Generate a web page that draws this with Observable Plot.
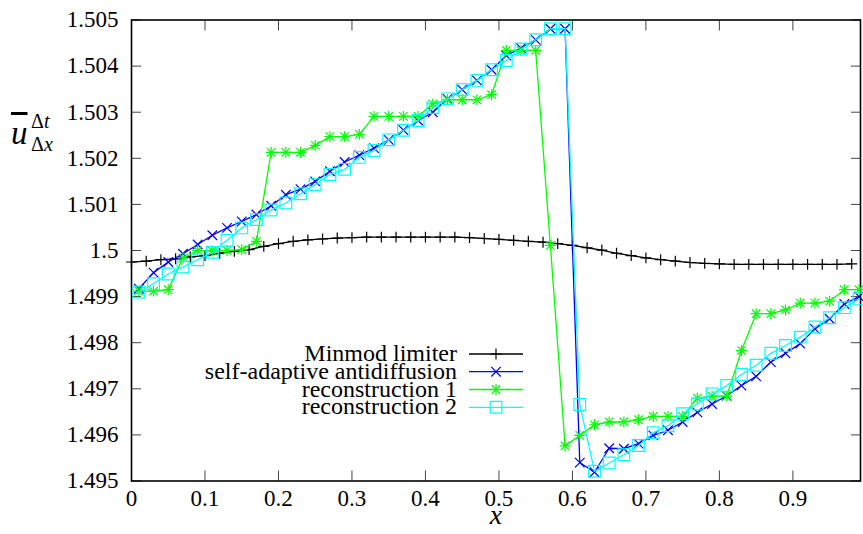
<!DOCTYPE html>
<html><head><meta charset="utf-8">
<script src="https://cdn.jsdelivr.net/npm/d3@7"></script>
<script src="https://cdn.jsdelivr.net/npm/@observablehq/plot@0.6"></script>
<style>
body{margin:0;background:#fff}
svg{display:block}
#wrap{position:relative;width:863px;height:534px}
#ylab span{position:absolute;font-family:'Liberation Serif';line-height:1;color:#000;white-space:nowrap;z-index:2}
</style>
</head><body>
<div id="wrap">
  <div id="ylab">
    <span style="left:11px;top:117px;font-size:33px;font-style:italic;text-decoration:overline">u</span>
    <span style="left:31px;top:111px;font-size:20px">Δ<i>t</i></span>
    <span style="left:31px;top:134px;font-size:20px">Δ<i>x</i></span>
  </div>
  <div id="chart"></div>
</div>
<script>
// grid positions
const xEven = [0.00,0.02,0.04,0.06,0.08,0.10,0.12,0.14,0.16,0.18,0.20,0.22,0.24,0.26,0.28,0.30,0.32,0.34,0.36,0.38,0.40,0.42,0.44,0.46,0.48,0.50,0.52,0.54,0.56,0.58,0.60,0.62,0.64,0.66,0.68,0.70,0.72,0.74,0.76,0.78,0.80,0.82,0.84,0.86,0.88,0.90,0.92,0.94,0.96,0.98];
const xOdd = [0.01,0.03,0.05,0.07,0.09,0.11,0.13,0.15,0.17,0.19,0.21,0.23,0.25,0.27,0.29,0.31,0.33,0.35,0.37,0.39,0.41,0.43,0.45,0.47,0.49,0.51,0.53,0.55,0.57,0.59,0.61,0.63,0.65,0.67,0.69,0.71,0.73,0.75,0.77,0.79,0.81,0.83,0.85,0.87,0.89,0.91,0.93,0.95,0.97,0.99];

// series values (x-axis xEven for minmod, xOdd for the others)
const minmod = [1.49975,1.49977,1.49980,1.49982,1.49986,1.49989,1.49994,1.49998,1.50002,1.50009,1.50015,1.50020,1.50023,1.50025,1.50027,1.50028,1.50029,1.50029,1.50029,1.50029,1.50029,1.50029,1.50029,1.50028,1.50026,1.50024,1.50022,1.50020,1.50018,1.50015,1.50011,1.50006,1.50001,1.49994,1.49989,1.49984,1.49980,1.49977,1.49974,1.49972,1.49971,1.49970,1.49970,1.49970,1.49970,1.49970,1.49970,1.49970,1.49970,1.49971];
const antidiffusion = [1.49917,1.49952,1.49975,1.49993,1.50013,1.50033,1.50049,1.50063,1.50078,1.50097,1.50121,1.50133,1.50150,1.50172,1.50192,1.50207,1.50222,1.50240,1.50261,1.50282,1.50300,1.50329,1.50349,1.50369,1.50392,1.50423,1.50439,1.50457,1.50481,1.50481,1.49540,1.49519,1.49571,1.49570,1.49581,1.49599,1.49610,1.49628,1.49649,1.49667,1.49685,1.49707,1.49727,1.49758,1.49777,1.49798,1.49830,1.49852,1.49884,1.49900];
const recon1 = [1.49912,1.49912,1.49915,1.49984,1.50000,1.49999,1.50000,1.50002,1.50020,1.50213,1.50213,1.50213,1.50228,1.50247,1.50247,1.50252,1.50291,1.50291,1.50291,1.50291,1.50318,1.50327,1.50327,1.50327,1.50338,1.50434,1.50434,1.50434,1.50011,1.49576,1.49599,1.49622,1.49628,1.49628,1.49633,1.49640,1.49640,1.49640,1.49680,1.49684,1.49684,1.49783,1.49863,1.49863,1.49871,1.49886,1.49886,1.49890,1.49915,1.49915];
const recon2 = [1.49910,1.49928,1.49949,1.49964,1.49980,1.49996,1.50022,1.50049,1.50067,1.50088,1.50103,1.50123,1.50143,1.50165,1.50176,1.50202,1.50217,1.50240,1.50261,1.50282,1.50310,1.50329,1.50349,1.50369,1.50392,1.50412,1.50437,1.50457,1.50481,1.50481,1.49666,1.49521,1.49539,1.49557,1.49577,1.49605,1.49620,1.49646,1.49667,1.49689,1.49707,1.49731,1.49751,1.49777,1.49794,1.49812,1.49834,1.49854,1.49876,1.49895];

const seriesNames = ["Minmod limiter","self-adaptive antidiffusion","reconstruction 1","reconstruction 2"];
const seriesColors = ["#000000","#0000ff","#00ff00","#00ffff"];
const xTicks = [0,0.1,0.2,0.3,0.4,0.5,0.6,0.7,0.8,0.9];
const yTicks = [1.495,1.496,1.497,1.498,1.499,1.5,1.501,1.502,1.503,1.504,1.505];

const FONT = "Liberation Serif";
const toRows = (xs, ys) => xs.map((x, i) => ({x, y: ys[i]}));
const s0 = toRows(xEven, minmod), s1 = toRows(xOdd, antidiffusion), s2 = toRows(xOdd, recon1), s3 = toRows(xOdd, recon2);
const fmtY = d => String(+d.toFixed(3));
const fmtX = d => String(+d.toFixed(1));

const R = {plus: 3.6, times: 4.4, star1: 3.6, star2: 3.9, square: 6.6};
const LW = 1.3;

function render() {
  const chart = Plot.plot({
    width: 863, height: 534,
    marginLeft: 131, marginRight: 3, marginTop: 19.5, marginBottom: 53.5,
    style: {fontFamily: FONT, fontSize: "23px", background: "#fff", color: "#000"},
    x: {domain: [0, 0.992]},
    y: {domain: [1.495, 1.505]},
    marks: [
      Plot.axisX({ticks: xTicks, anchor: "bottom", tickSize: 10, dy: -10, tickFormat: () => "", label: null, stroke: "#444"}),
      Plot.axisX({ticks: xTicks, anchor: "top", tickSize: 10, dy: 10, tickFormat: () => "", label: null, stroke: "#444"}),
      Plot.axisY({ticks: yTicks, anchor: "left", tickSize: 10, dx: 10, tickFormat: () => "", label: null, stroke: "#444"}),
      Plot.axisY({ticks: yTicks, anchor: "right", tickSize: 10, dx: -10, tickFormat: () => "", label: null, stroke: "#444"}),
      Plot.axisX({ticks: xTicks, anchor: "bottom", tickSize: 0, tickPadding: 9, tickFormat: fmtX, label: null, fontSize: 23, fontFamily: FONT}),
      Plot.axisY({ticks: yTicks, anchor: "left", tickSize: 0, tickPadding: 13, tickFormat: fmtY, label: null, fontSize: 23, fontFamily: FONT}),
      Plot.frame({stroke: "#000", strokeWidth: 1.6}),
      Plot.line(s0, {x: "x", y: "y", stroke: seriesColors[0], strokeWidth: LW}),
      Plot.dot(s0, {x: "x", y: "y", symbol: "plus", r: R.plus, stroke: seriesColors[0], strokeWidth: 1.2}),
      Plot.line(s1, {x: "x", y: "y", stroke: seriesColors[1], strokeWidth: LW}),
      Plot.dot(s1, {x: "x", y: "y", symbol: "times", r: R.times, stroke: seriesColors[1], strokeWidth: 1.2}),
      Plot.line(s2, {x: "x", y: "y", stroke: seriesColors[2], strokeWidth: LW}),
      Plot.dot(s2, {x: "x", y: "y", symbol: "plus", r: R.star1, stroke: seriesColors[2], strokeWidth: 1.2}),
      Plot.dot(s2, {x: "x", y: "y", symbol: "times", r: R.star2, stroke: seriesColors[2], strokeWidth: 1.2}),
      Plot.line(s3, {x: "x", y: "y", stroke: seriesColors[3], strokeWidth: LW}),
      Plot.dot(s3, {x: "x", y: "y", symbol: "square", r: R.square, fill: "none", stroke: seriesColors[3], strokeWidth: 1.2}),
      Plot.text(["x"], {frameAnchor: "bottom", dy: 43, text: d => d, fontStyle: "italic", fontSize: 28, fontFamily: FONT})
    ]
  });

  // legend (gnuplot-style key)
  const svg = d3.select(chart);
  const lg = svg.append("g");
  const rowY = [354, 371.7, 389.5, 407.3];
  const symArea = r => Math.PI * r * r;
  const symbolsFor = [
    [[d3.symbolPlus, R.plus]],
    [[d3.symbolTimes, R.times]],
    [[d3.symbolPlus, R.star1], [d3.symbolTimes, R.star2]],
    [[d3.symbolSquare, R.square]]
  ];
  seriesNames.forEach((name, i) => {
    const y = rowY[i];
    lg.append("text").attr("x", 457).attr("y", y + 7).attr("text-anchor", "end").attr("fill", "#000")
      .attr("font-family", FONT).attr("font-size", 24).text(name);
    lg.append("line").attr("x1", 469).attr("x2", 523).attr("y1", y).attr("y2", y)
      .attr("stroke", seriesColors[i]).attr("stroke-width", LW);
    symbolsFor[i].forEach(([t, r]) => {
      lg.append("path").attr("d", d3.symbol(t, symArea(r))()).attr("transform", `translate(496,${y})`)
        .attr("fill", "none").attr("stroke", seriesColors[i]).attr("stroke-width", 1.2);
    });
  });

  const host = document.getElementById("chart");
  host.innerHTML = "";
  host.appendChild(chart);
}

render();
if (document.fonts && document.fonts.load) {
  Promise.all([
    document.fonts.load('23px "Liberation Serif"'),
    document.fonts.load('italic 28px "Liberation Serif"')
  ]).then(render, () => {});
}
</script>
</body></html>
